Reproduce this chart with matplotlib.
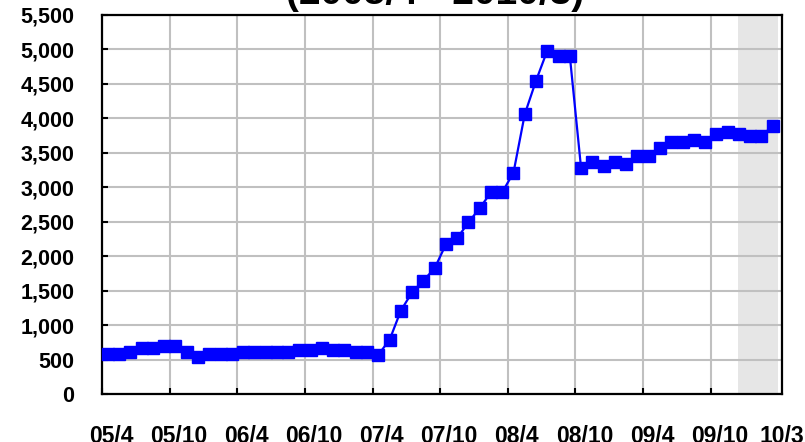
import matplotlib
matplotlib.use("Agg")
from matplotlib import pyplot as plt
from matplotlib.ticker import FuncFormatter

plt.rcParams['font.family'] = ['Liberation Sans', 'DejaVu Sans']
plt.rcParams['font.weight'] = 'bold'

# monthly values, 2005/4 .. 2010/3
months = ['%02d/%d' % ((y % 100), m) for y, m in
          [(2005 + (i + 3) // 12, (i + 3) % 12 + 1) for i in range(60)]]
values = [580, 580, 605, 663, 663, 697, 697, 605, 542, 580,
          580, 580, 605, 605, 605, 605, 605, 638, 638, 663,
          638, 638, 605, 605, 570, 784, 1209, 1476, 1645, 1824,
          2172, 2259, 2491, 2695, 2927, 2927, 3212, 4060, 4547, 4983,
          4906, 4906, 3275, 3363, 3309, 3363, 3338, 3454, 3454, 3566,
          3653, 3653, 3686, 3653, 3773, 3807, 3773, 3744, 3744, 3889]
tick_labels = ['05/4', '05/10', '06/4', '06/10', '07/4', '07/10',
               '08/4', '08/10', '09/4', '09/10', '10/3']
title = '(2005/4 - 2010/3)'

fig = plt.figure(figsize=(8.05, 4.42), dpi=100)
ax = fig.add_axes([0.127, 0.1086, 0.844, 0.8575])

x = [i + 0.5 for i in range(len(values))]

# shaded last months
ax.axvspan(56.4, 60, color='#e6e6e6', zorder=0, lw=0)

ax.plot(x, values, color='#0000ff', lw=1.6, marker='s', ms=8,
        markeredgecolor='#0000ff', zorder=3, clip_on=False)

ax.set_xlim(0, 60)
ax.set_ylim(0, 5500)
ax.set_yticks(range(0, 5501, 500))
ax.yaxis.set_major_formatter(FuncFormatter(lambda v, p: '{:,}'.format(int(v))))

# gridlines / tick marks on category boundaries, labels in between
ax.set_xticks(range(0, 60, 6), minor=True)
pos = [months.index(l) + 0.8 for l in tick_labels]
pos[-1] = months.index('10/3') + 1.3
ax.set_xticks(pos)
ax.set_xticklabels(tick_labels)

ax.grid(True, which='minor', axis='x', color='#c0c0c0', lw=1.5)
ax.grid(True, which='major', axis='y', color='#c0c0c0', lw=1.5)
ax.set_axisbelow(True)

ax.tick_params(axis='x', which='major', length=0, pad=22, labelsize=16.5)
ax.tick_params(axis='x', which='minor', direction='in', length=4, width=1.5)
ax.tick_params(axis='y', direction='in', length=4, width=1.5, pad=20, labelsize=15.5)

for s in ax.spines.values():
    s.set_linewidth(1.6)
    s.set_color('black')

fig.text(0.54, 0.991, title, ha='center', va='baseline', fontsize=28, weight='bold')

fig.savefig('out.png', dpi=100)
